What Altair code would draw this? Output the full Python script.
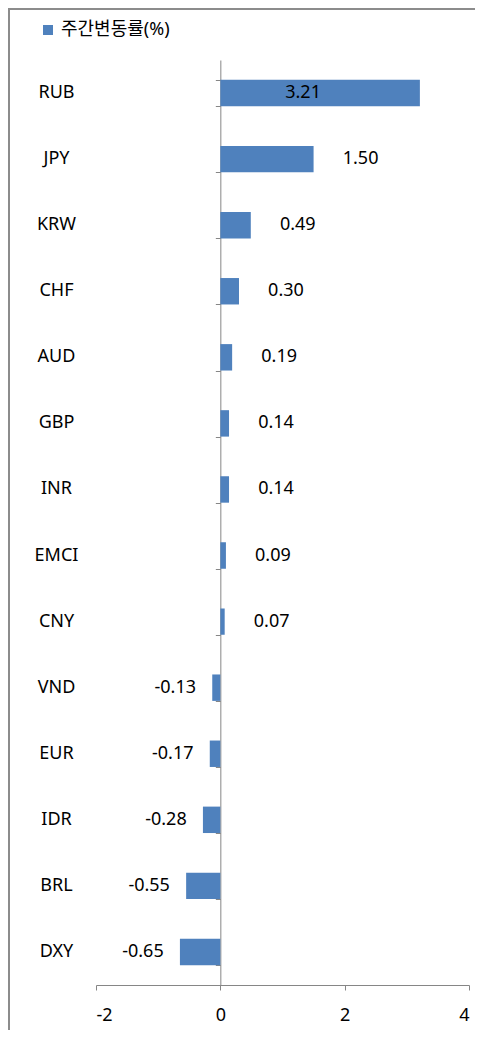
import altair as alt
import pandas as pd

currencies = ["RUB", "JPY", "KRW", "CHF", "AUD", "GBP", "INR", "EMCI", "CNY",
              "VND", "EUR", "IDR", "BRL", "DXY"]
changes = [3.21, 1.50, 0.49, 0.30, 0.19, 0.14, 0.14, 0.09, 0.07,
           -0.13, -0.17, -0.28, -0.55, -0.65]
series_name = "주간변동률(%)"
x_ticks = [-2, 0, 2, 4]

df = pd.DataFrame({"currency": currencies, "change": changes})
df["series"] = series_name
df["label"] = [f"{v:.2f}" for v in changes]

W, H = 373, 925
FONT = "Noto Sans, Noto Sans CJK KR"
FS = 18
BLUE = "#4F81BD"
GRAY = "#868686"

ysc = alt.Scale(domain=currencies, paddingInner=0.6, paddingOuter=0.3)
xsc = alt.Scale(domain=[-2, 4], nice=False, zero=False)

base = alt.Chart(df)

bars = base.mark_bar().encode(
    x=alt.X("change:Q", scale=xsc,
            axis=alt.Axis(values=x_ticks, title=None, grid=False, domainColor=GRAY,
                          tickColor=GRAY, tickSize=5, labelPadding=16,
                          labelExpr="'' + datum.value",
                          labelFontSize=FS, labelFont=FONT, labelColor="black")),
    x2=alt.datum(0),
    y=alt.Y("currency:N", scale=ysc, sort=currencies,
            axis=alt.Axis(title=None, ticks=False, domain=False, labelAlign="center",
                          labelPadding=40, labelFontSize=FS, labelFont=FONT,
                          labelColor="black", orient="left")),
    color=alt.Color("series:N", scale=alt.Scale(range=[BLUE]),
                    legend=alt.Legend(title=None, orient="none", legendX=-57, legendY=-39,
                                      symbolType="square", symbolSize=100,
                                      symbolStrokeWidth=0, symbolOpacity=1,
                                      labelFontSize=FS, labelFont=FONT,
                                      labelColor="black", labelOffset=4, padding=0)),
)

zero_axis = base.mark_point(opacity=0).encode(
    x=alt.X("change:Q", scale=xsc),
    y=alt.Y("currency:N", scale=ysc, sort=currencies,
            axis=alt.Axis(orient="left", offset=-(W * 2 / 6), labels=False, title=None,
                          domainColor=GRAY, tickColor=GRAY, tickSize=5,
                          tickBand="extent", grid=False)),
)

txt = dict(fontSize=FS, font=FONT, color="black", baseline="middle", align="center")

pos_labels = base.transform_filter("datum.change > 0 && datum.change < 3").mark_text(
    dx=47, **txt).encode(
    x=alt.X("change:Q", scale=xsc),
    y=alt.Y("currency:N", scale=ysc, sort=currencies, axis=None),
    text="label:N")

neg_labels = base.transform_filter("datum.change < 0").mark_text(
    dx=-37, **txt).encode(
    x=alt.X("change:Q", scale=xsc),
    y=alt.Y("currency:N", scale=ysc, sort=currencies, axis=None),
    text="label:N")

big_labels = base.transform_filter("datum.change >= 3").transform_calculate(
    mid="datum.change / 2").mark_text(dx=-17, **txt).encode(
    x=alt.X("mid:Q", scale=xsc),
    y=alt.Y("currency:N", scale=ysc, sort=currencies, axis=None),
    text="label:N")

frame_df = pd.DataFrame({"k": [0]})
left_border = alt.Chart(frame_df).mark_rule(color="#8c8c8c", strokeWidth=2).encode(
    x=alt.value(-87), y=alt.value(-52), y2=alt.value(H + 80))
top_border = alt.Chart(frame_df).mark_rule(color="#8c8c8c", strokeWidth=2).encode(
    x=alt.value(-87), x2=alt.value(W + 40), y=alt.value(-51))

chart = alt.layer(
    left_border, top_border, bars, zero_axis, pos_labels, neg_labels, big_labels
).resolve_axis(y="independent").properties(
    width=W, height=H,
    autosize=alt.AutoSizeParams(type="none"),
    padding={"left": 88, "top": 52, "right": 6, "bottom": 45},
).configure_view(stroke=None)

chart.save("out.html", embed_options={"renderer": "svg", "actions": False})
